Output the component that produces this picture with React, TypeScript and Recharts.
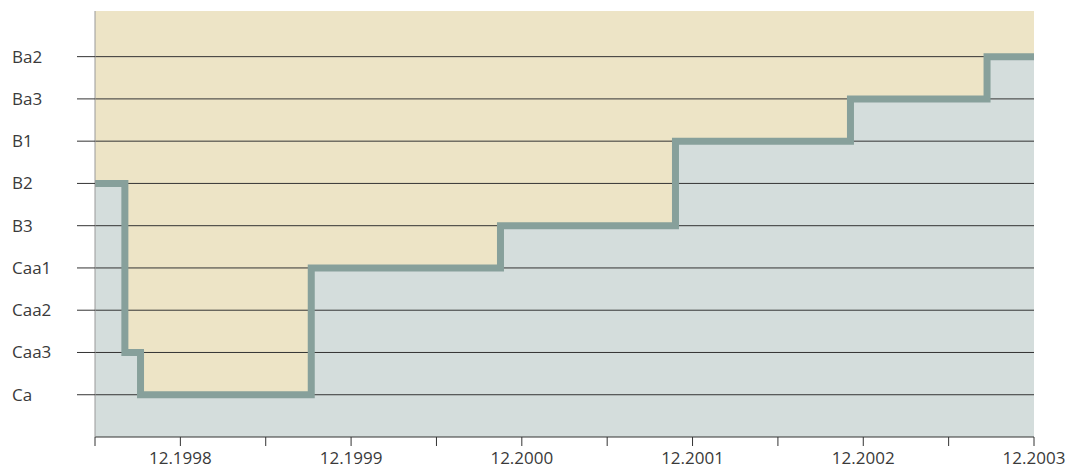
import { ComposedChart, Area, Line, XAxis, YAxis, CartesianGrid, ReferenceLine } from 'recharts'

// months since 6.1998, rating level (Ca = 1 ... Ba2 = 9)
const months = [0, 2.1, 3.2, 15.2, 28.5, 40.8, 53.1, 62.7, 66]
const ratings = [6, 2, 1, 4, 5, 7, 8, 9, 9]
const levels = ['Ca', 'Caa3', 'Caa2', 'Caa1', 'B3', 'B2', 'B1', 'Ba3', 'Ba2']
const levelTicks = [1, 2, 3, 4, 5, 6, 7, 8, 9]
const monthTicks = [0, 6, 12, 18, 24, 30, 36, 42, 48, 54, 60, 66]
const monthLabels: Record<number, string> = {
  6: '12.1998', 18: '12.1999', 30: '12.2000', 42: '12.2001', 54: '12.2002', 66: '12.2003',
}

const data = months.map((m, i) => ({ m, r: ratings[i] }))

const FONT = '"Open Sans", sans-serif'

const YTick = ({ y, payload }: any) => (
  <text x={12} y={y} dy={6} textAnchor="start" fontFamily={FONT} fontSize={17} fill="#3a3a3a">
    {levels[payload.value - 1]}
  </text>
)

const XTick = ({ x, y, payload }: any) => (
  <text x={x} y={y} dy={16} textAnchor="middle" fontFamily={FONT} fontSize={17} fill="#3a3a3a">
    {monthLabels[payload.value] ?? ''}
  </text>
)

export default function App() {
  return (
    <div style={{ position: 'absolute', left: 0, top: 0, width: 1068, height: 475, background: '#fff' }}>
      <ComposedChart width={1068} height={475} data={data} margin={{ top: 11, right: 34, bottom: 0, left: 0 }}>
        <CartesianGrid horizontal={false} vertical={false} fill="#ede4c6" stroke="none" />
        <XAxis
          dataKey="m"
          type="number"
          domain={[0, 66]}
          ticks={monthTicks}
          interval={0}
          height={38}
          tickSize={9}
          tick={<XTick />}
          axisLine={{ stroke: '#333' }}
          tickLine={{ stroke: '#333' }}
        />
        <XAxis xAxisId="top" orientation="top" dataKey="m" type="number" domain={[0, 66]} height={0} tick={false} tickLine={false} axisLine={{ stroke: '#888', strokeWidth: 1.5 }} />
        <YAxis
          type="number"
          domain={[0, 10.08]}
          ticks={levelTicks}
          interval={0}
          width={95}
          tickSize={18}
          tick={<YTick />}
          axisLine={{ stroke: '#999' }}
          tickLine={{ stroke: '#333' }}
        />
        <YAxis yAxisId="right" orientation="right" type="number" domain={[0, 10.08]} width={0} tick={false} tickLine={false} axisLine={{ stroke: '#555' }} />
        <Area dataKey="r" type="stepAfter" fill="#d4dddc" fillOpacity={1} stroke="none" isAnimationActive={false} />
        {levelTicks.map(v => (
          <ReferenceLine key={v} y={v} stroke="#333" strokeWidth={1} />
        ))}
        <Line dataKey="r" type="stepAfter" stroke="#87a09b" strokeWidth={7} strokeLinejoin="miter" strokeLinecap="butt" dot={false} activeDot={false} isAnimationActive={false} />
      </ComposedChart>
    </div>
  )
}
